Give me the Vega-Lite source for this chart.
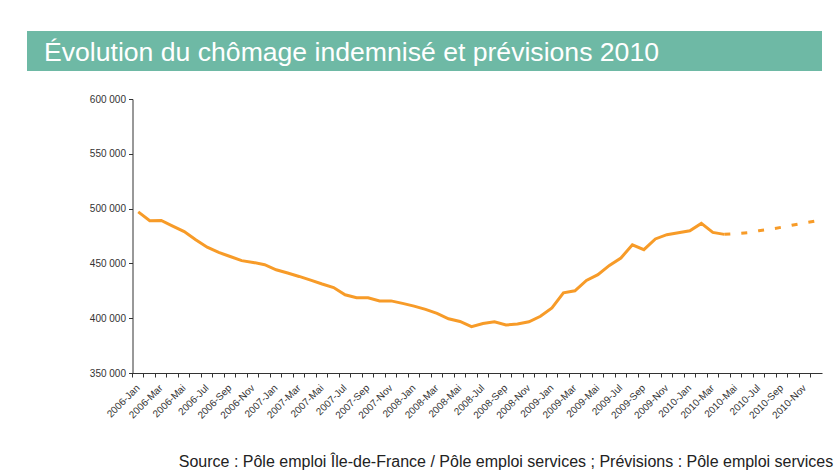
{
  "$schema": "https://vega.github.io/schema/vega-lite/v6.json",
  "padding": {"left": 27, "top": 31, "right": 4, "bottom": 0},
  "background": "#ffffff",
  "spacing": 23,
  "title": {
    "text": "Source : Pôle emploi Île-de-France / Pôle emploi services ; Prévisions : Pôle emploi services",
    "orient": "bottom",
    "anchor": "end",
    "fontSize": 16,
    "font": "Liberation Sans",
    "fontWeight": "normal",
    "color": "#222222",
    "offset": 34,
    "dx": 11
  },
  "vconcat": [
    {
      "width": 795,
      "height": 40,
      "data": {"values": [{"titre": "Évolution du chômage indemnisé et prévisions 2010"}]},
      "view": {"fill": "#6eb9a5", "stroke": null},
      "layer": [
        {
          "mark": {"type": "rect", "color": "#6eb9a5"},
          "encoding": {}
        },
        {
          "mark": {
            "type": "text",
            "align": "left",
            "baseline": "alphabetic",
            "dx": -380.5,
            "dy": 10,
            "color": "#ffffff",
            "fontSize": 26.6,
            "font": "Liberation Sans"
          },
          "encoding": {"text": {"field": "titre"}}
        }
      ]
    },
    {
      "width": 795,
      "height": 274,
      "data": {
        "values": [
          {"m": "2006-Jan", "v": 497000, "s": "Réel"},
          {"m": "2006-Fév", "v": 489000, "s": "Réel"},
          {"m": "2006-Mar", "v": 489200, "s": "Réel"},
          {"m": "2006-Avr", "v": 484000, "s": "Réel"},
          {"m": "2006-Mai", "v": 479000, "s": "Réel"},
          {"m": "2006-Jun", "v": 471600, "s": "Réel"},
          {"m": "2006-Jul", "v": 464800, "s": "Réel"},
          {"m": "2006-Aoû", "v": 460000, "s": "Réel"},
          {"m": "2006-Sep", "v": 456300, "s": "Réel"},
          {"m": "2006-Oct", "v": 452500, "s": "Réel"},
          {"m": "2006-Nov", "v": 450900, "s": "Réel"},
          {"m": "2006-Déc", "v": 448800, "s": "Réel"},
          {"m": "2007-Jan", "v": 444200, "s": "Réel"},
          {"m": "2007-Fév", "v": 441200, "s": "Réel"},
          {"m": "2007-Mar", "v": 438100, "s": "Réel"},
          {"m": "2007-Avr", "v": 434700, "s": "Réel"},
          {"m": "2007-Mai", "v": 431200, "s": "Réel"},
          {"m": "2007-Jun", "v": 428000, "s": "Réel"},
          {"m": "2007-Jul", "v": 421400, "s": "Réel"},
          {"m": "2007-Aoû", "v": 418700, "s": "Réel"},
          {"m": "2007-Sep", "v": 418700, "s": "Réel"},
          {"m": "2007-Oct", "v": 415800, "s": "Réel"},
          {"m": "2007-Nov", "v": 415800, "s": "Réel"},
          {"m": "2007-Déc", "v": 413500, "s": "Réel"},
          {"m": "2008-Jan", "v": 411000, "s": "Réel"},
          {"m": "2008-Fév", "v": 408000, "s": "Réel"},
          {"m": "2008-Mar", "v": 404400, "s": "Réel"},
          {"m": "2008-Avr", "v": 399500, "s": "Réel"},
          {"m": "2008-Mai", "v": 397000, "s": "Réel"},
          {"m": "2008-Jun", "v": 392300, "s": "Réel"},
          {"m": "2008-Jul", "v": 395200, "s": "Réel"},
          {"m": "2008-Aoû", "v": 396700, "s": "Réel"},
          {"m": "2008-Sep", "v": 393800, "s": "Réel"},
          {"m": "2008-Oct", "v": 394700, "s": "Réel"},
          {"m": "2008-Nov", "v": 396700, "s": "Réel"},
          {"m": "2008-Déc", "v": 401800, "s": "Réel"},
          {"m": "2009-Jan", "v": 409300, "s": "Réel"},
          {"m": "2009-Fév", "v": 423100, "s": "Réel"},
          {"m": "2009-Mar", "v": 425000, "s": "Réel"},
          {"m": "2009-Avr", "v": 434500, "s": "Réel"},
          {"m": "2009-Mai", "v": 439700, "s": "Réel"},
          {"m": "2009-Jun", "v": 448200, "s": "Réel"},
          {"m": "2009-Jul", "v": 454900, "s": "Réel"},
          {"m": "2009-Aoû", "v": 467000, "s": "Réel"},
          {"m": "2009-Sep", "v": 462500, "s": "Réel"},
          {"m": "2009-Oct", "v": 472300, "s": "Réel"},
          {"m": "2009-Nov", "v": 476200, "s": "Réel"},
          {"m": "2009-Déc", "v": 478000, "s": "Réel"},
          {"m": "2010-Jan", "v": 479800, "s": "Réel"},
          {"m": "2010-Fév", "v": 486500, "s": "Réel"},
          {"m": "2010-Mar", "v": 478300, "s": "Réel"},
          {"m": "2010-Avr", "v": 476500, "s": "Réel"},
          {"m": "2010-Avr", "v": 476500, "s": "Prévision"},
          {"m": "2010-Mai", "v": 477100, "s": "Prévision"},
          {"m": "2010-Jun", "v": 478000, "s": "Prévision"},
          {"m": "2010-Jul", "v": 479800, "s": "Prévision"},
          {"m": "2010-Aoû", "v": 481200, "s": "Prévision"},
          {"m": "2010-Sep", "v": 483000, "s": "Prévision"},
          {"m": "2010-Oct", "v": 485100, "s": "Prévision"},
          {"m": "2010-Nov", "v": 487000, "s": "Prévision"},
          {"m": "2010-Déc", "v": 488800, "s": "Prévision"}
        ]
      },
      "encoding": {
        "y": {
          "field": "v",
          "type": "quantitative",
          "scale": {"domain": [350000, 600000], "nice": false, "zero": false},
          "axis": {
            "title": null,
            "values": [350000, 400000, 450000, 500000, 550000, 600000],
            "labelExpr": "replace(format(datum.value, ','), ',', ' ')",
            "offset": -105.5,
            "minExtent": 0,
            "tickSize": 4,
            "labelPadding": 3,
            "labelFontSize": 10,
            "domainColor": "#333333",
            "tickColor": "#333333"
          }
        }
      },
      "layer": [
        {
          "transform": [{"filter": "datum.s === 'Réel'"}],
          "mark": {"type": "line", "color": "#f79b28", "strokeWidth": 3},
          "encoding": {
            "x": {
              "field": "m",
              "type": "ordinal",
              "sort": null,
              "scale": {
                "type": "band",
                "paddingInner": 0,
                "paddingOuter": 0,
                "range": [105.5, 795],
                "domain": ["2006-Jan","2006-Fév","2006-Mar","2006-Avr","2006-Mai","2006-Jun","2006-Jul","2006-Aoû","2006-Sep","2006-Oct","2006-Nov","2006-Déc","2007-Jan","2007-Fév","2007-Mar","2007-Avr","2007-Mai","2007-Jun","2007-Jul","2007-Aoû","2007-Sep","2007-Oct","2007-Nov","2007-Déc","2008-Jan","2008-Fév","2008-Mar","2008-Avr","2008-Mai","2008-Jun","2008-Jul","2008-Aoû","2008-Sep","2008-Oct","2008-Nov","2008-Déc","2009-Jan","2009-Fév","2009-Mar","2009-Avr","2009-Mai","2009-Jun","2009-Jul","2009-Aoû","2009-Sep","2009-Oct","2009-Nov","2009-Déc","2010-Jan","2010-Fév","2010-Mar","2010-Avr","2010-Mai","2010-Jun","2010-Jul","2010-Aoû","2010-Sep","2010-Oct","2010-Nov","2010-Déc"]
              },
              "axis": {
                "orient": "bottom",
                "title": null,
                "values": ["2006-Jan","2006-Mar","2006-Mai","2006-Jul","2006-Sep","2006-Nov","2007-Jan","2007-Mar","2007-Mai","2007-Jul","2007-Sep","2007-Nov","2008-Jan","2008-Mar","2008-Mai","2008-Jul","2008-Sep","2008-Nov","2009-Jan","2009-Mar","2009-Mai","2009-Jul","2009-Sep","2009-Nov","2010-Jan","2010-Mar","2010-Mai","2010-Jul","2010-Sep","2010-Nov"],
                "ticks": false,
                "domain": false,
                "labelAngle": -45,
                "labelAlign": "right",
                "labelBaseline": "middle",
                "labelPadding": 13,
                "labelFontSize": 10,
                "labelOverlap": false
              }
            }
          }
        },
        {
          "transform": [{"filter": "datum.s === 'Prévision'"}],
          "mark": {"type": "line", "color": "#f79b28", "strokeWidth": 3, "strokeDash": [6, 11], "strokeCap": "butt"},
          "encoding": {
            "x": {
              "field": "m",
              "type": "ordinal",
              "sort": null,
              "scale": {
                "type": "band",
                "paddingInner": 0,
                "paddingOuter": 0,
                "range": [105.5, 795],
                "domain": ["2006-Jan","2006-Fév","2006-Mar","2006-Avr","2006-Mai","2006-Jun","2006-Jul","2006-Aoû","2006-Sep","2006-Oct","2006-Nov","2006-Déc","2007-Jan","2007-Fév","2007-Mar","2007-Avr","2007-Mai","2007-Jun","2007-Jul","2007-Aoû","2007-Sep","2007-Oct","2007-Nov","2007-Déc","2008-Jan","2008-Fév","2008-Mar","2008-Avr","2008-Mai","2008-Jun","2008-Jul","2008-Aoû","2008-Sep","2008-Oct","2008-Nov","2008-Déc","2009-Jan","2009-Fév","2009-Mar","2009-Avr","2009-Mai","2009-Jun","2009-Jul","2009-Aoû","2009-Sep","2009-Oct","2009-Nov","2009-Déc","2010-Jan","2010-Fév","2010-Mar","2010-Avr","2010-Mai","2010-Jun","2010-Jul","2010-Aoû","2010-Sep","2010-Oct","2010-Nov","2010-Déc"]
              },
              "axis": {
                "orient": "bottom",
                "title": null,
                "labels": false,
                "ticks": true,
                "tickSize": 4,
                "bandPosition": 0,
                "domain": true,
                "domainColor": "#333333",
                "tickColor": "#333333"
              }
            }
          }
        }
      ],
      "resolve": {"axis": {"x": "independent"}}
    }
  ],
  "config": {
    "font": "Liberation Sans",
    "view": {"stroke": null},
    "axis": {
      "grid": false,
      "labelFont": "Liberation Sans",
      "labelColor": "#333333",
      "domainWidth": 1,
      "tickWidth": 1
    }
  }
}
